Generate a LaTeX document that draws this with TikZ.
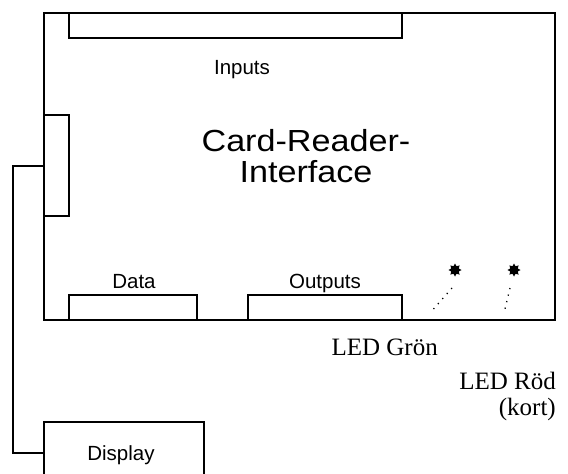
\documentclass[tikz,border=0pt]{standalone}
\usepackage{fontspec}
\usetikzlibrary{shapes.geometric}
\setmainfont{Liberation Serif}
\newfontfamily\arialf{Liberation Sans}
\begin{document}
\begin{tikzpicture}[x=1pt,y=-1pt,
  box/.style={draw,line width=2.8pt},
  lbl/.style={font=\arialf\fontsize{20.5}{22}\selectfont,inner sep=0,anchor=base},
  serif/.style={font=\fontsize{25}{28}\selectfont,inner sep=0,anchor=base east},
  ledstar/.style={star,star points=8,star point ratio=1.6,fill=black,minimum size=13pt,inner sep=0},
  dots/.style={line width=1.3pt,dash pattern=on 1.2pt off 5.5pt}]
\useasboundingbox (0,0) rectangle (568,474);
\clip (0,0) rectangle (568,474);
\draw[box] (44,13) rectangle (555,320);
\draw[box] (69,13) rectangle (402,38);
\draw[box] (44,115) rectangle (69,216);
\draw[box] (69,295) rectangle (197,320);
\draw[box] (248,295) rectangle (402,320);
\draw[box] (44,422) rectangle (204,480);
\coordinate (w1) at (44,166);
\coordinate (w2) at (13,166);
\coordinate (w3) at (13,453);
\coordinate (w4) at (44,453);
\draw[line width=2.8pt] (w1) -- (w2) -- (w3) -- (w4);
\node[lbl] (inputs) at (242,74) {Inputs};
\node[font=\arialf\fontsize{30.5}{31}\selectfont,inner sep=0,align=center,xscale=1.12] (title) at (306,156) {Card-Reader-\\Interface};
\node[lbl] (data) at (134,288) {Data};
\node[lbl] (outputs) at (325,288) {Outputs};
\node[lbl] (display) at (121,460) {Display};
\node[ledstar] (s1) at (455,270) {};
\node[ledstar] (s2) at (514,270) {};
\coordinate (e1) at (430,313);
\coordinate (e2) at (504,313);
\draw[dots] (452,288) -- (e1);
\draw[dots] (510,288) -- (e2);
\node[serif] (g) at (438,355) {LED Grön};
\node[serif] (r) at (556,389) {LED Röd};
\node[serif] (k) at (556,415) {(kort)};
\end{tikzpicture}
\end{document}
